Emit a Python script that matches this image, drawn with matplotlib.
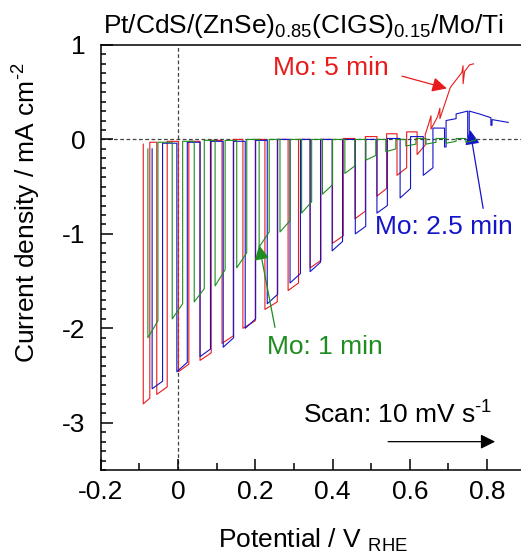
import matplotlib
matplotlib.use("Agg")
import matplotlib.pyplot as plt
from matplotlib.ticker import MultipleLocator

plt.rcParams["font.family"] = ["Liberation Sans", "DejaVu Sans"]
plt.rcParams["mathtext.fontset"] = "custom"
plt.rcParams["mathtext.rm"] = "Liberation Sans"
plt.rcParams["mathtext.it"] = "Liberation Sans"
plt.rcParams["axes.unicode_minus"] = False

FS = 19

# Оси
x_ticks = [-0.2, 0, 0.2, 0.4, 0.6, 0.8]
x_tick_labels = ["-0.2", "0", "0.2", "0.4", "0.6", "0.8"]
y_ticks = [1, 0, -1, -2, -3]
y_tick_labels = ["1", "0", "-1", "-2", "-3"]

# Mo: 1 min (зелёная) - прерывистое освещение
g_on = [-0.078, -0.015, 0.042, 0.096, 0.152, 0.210, 0.264, 0.320,
        0.374, 0.432, 0.486, 0.538, 0.590, 0.642, 0.694, 0.745]
g_off = [-0.052, 0.012, 0.068, 0.122, 0.178, 0.236, 0.290, 0.346,
         0.400, 0.458, 0.512, 0.564, 0.616, 0.668, 0.720, 0.770]
g_j_on = [-2.10, -1.90, -1.72, -1.55, -1.36, -1.14, -0.98, -0.78,
          -0.58, -0.36, -0.22, -0.13, -0.07, -0.05, -0.04, -0.03]
g_j_off = [-1.92, -1.74, -1.58, -1.38, -1.20, -0.98, -0.86, -0.66,
           -0.48, -0.28, -0.17, -0.10, -0.05, -0.03, -0.02, -0.01]
g_dark = [-0.10, -0.03, -0.02, -0.01, -0.01, 0.0, 0.0, 0.0, 0.0,
          0.0, 0.0, 0.0, 0.0, 0.01, 0.01, 0.01, 0.01]

# Mo: 2.5 min (синяя)
b_on = [-0.067, -0.003, 0.057, 0.117, 0.174, 0.231, 0.290, 0.342,
        0.399, 0.459, 0.515, 0.575, 0.635]
b_off = [-0.040, 0.024, 0.084, 0.144, 0.201, 0.258, 0.317, 0.369,
         0.426, 0.486, 0.542, 0.602, 0.660]
b_j_on = [-2.64, -2.46, -2.30, -2.20, -2.00, -1.74, -1.52, -1.40,
          -1.18, -1.00, -0.78, -0.62, -0.38]
b_j_off = [-2.56, -2.36, -2.22, -2.10, -1.90, -1.64, -1.42, -1.30,
           -1.08, -0.92, -0.70, -0.52, -0.30]
b_dark = [-0.10, -0.04, -0.03, -0.02, -0.02, -0.01, 0.0, 0.0, 0.0,
          0.0, 0.0, 0.01, 0.03, 0.12]
b_tail_e = [0.690, 0.690, 0.694, 0.694, 0.720, 0.720, 0.750, 0.750,
            0.754, 0.754, 0.780, 0.810, 0.810, 0.813, 0.813, 0.855]
b_tail_j = [0.12, -0.08, -0.08, 0.20, 0.22, 0.27, 0.30, 0.02,
            0.02, 0.30, 0.27, 0.23, 0.15, 0.15, 0.21, 0.18]

# Mo: 5 min (красная)
r_on = [-0.090, -0.055, 0.001, 0.057, 0.114, 0.168, 0.225, 0.285,
        0.342, 0.400, 0.458, 0.515, 0.567, 0.619]
r_off = [-0.073, -0.028, 0.028, 0.086, 0.143, 0.200, 0.257, 0.312,
         0.370, 0.428, 0.485, 0.540, 0.592, 0.640]
r_j_on = [-2.80, -2.70, -2.46, -2.34, -2.16, -2.00, -1.80, -1.60,
          -1.36, -1.10, -0.84, -0.60, -0.38, -0.16]
r_j_off = [-2.74, -2.62, -2.38, -2.26, -2.08, -1.92, -1.72, -1.52,
           -1.28, -1.02, -0.76, -0.52, -0.30, -0.06]
r_dark = [-0.05, -0.03, -0.02, -0.02, -0.01, 0.0, 0.0, 0.0, 0.0,
          0.0, 0.01, 0.03, 0.06, 0.08, 0.05]
r_tail_e = [0.650, 0.655, 0.655, 0.672, 0.678, 0.678, 0.705, 0.735,
            0.738, 0.738, 0.742, 0.755, 0.765]
r_tail_j = [0.18, 0.25, 0.11, 0.24, 0.33, 0.22, 0.55, 0.71,
            0.78, 0.59, 0.72, 0.79, 0.80]

RED = "#e81c1c"
BLUE = "#1414c8"
GREEN = "#1f8c1f"


def chopped(e_on, e_off, j_on, j_off, j_dark, tail_e=(), tail_j=()):
    """
    Собирает ломаную: темновой ток -> фототок -> темновой ток ...
    """
    e = [e_on[0]]
    j = [j_dark[0]]
    for i in range(len(e_on)):
        e += [e_on[i], e_on[i], e_off[i], e_off[i]]
        j += [j_dark[i], j_on[i], j_off[i], j_dark[i + 1]]
    e += list(tail_e)
    j += list(tail_j)
    return e, j


fig = plt.figure(figsize=(5.21, 5.56), dpi=100)
ax = fig.add_axes([0.1934, 0.1547, 0.8155, 0.7644])

ax.axhline(0, color="#444444", lw=0.9, ls=(0, (3, 2)), zorder=1)
ax.axvline(0, color="#444444", lw=0.9, ls=(0, (3, 2)), zorder=1)

e, j = chopped(r_on, r_off, r_j_on, r_j_off, r_dark, r_tail_e, r_tail_j)
ax.plot(e, j, color=RED, lw=0.8, zorder=2)
e, j = chopped(b_on, b_off, b_j_on, b_j_off, b_dark, b_tail_e, b_tail_j)
ax.plot(e, j, color=BLUE, lw=0.8, zorder=3)
e, j = chopped(g_on, g_off, g_j_on, g_j_off, g_dark)
ax.plot(e, j, color=GREEN, lw=0.8, zorder=4)

ax.set_xlim(-0.2, 0.9)
ax.set_ylim(-3.5, 1.0)
ax.set_xticks(x_ticks)
ax.set_xticklabels(x_tick_labels)
ax.set_yticks(y_ticks)
ax.set_yticklabels(y_tick_labels)
ax.xaxis.set_minor_locator(MultipleLocator(0.1))
ax.yaxis.set_minor_locator(MultipleLocator(0.1))
ax.tick_params(which="both", direction="in", top=False, right=False,
               width=1.1, labelsize=FS)
ax.tick_params(axis="x", which="major", length=8, pad=7)
ax.tick_params(axis="x", which="minor", length=5)
ax.tick_params(axis="y", which="major", length=8.5, pad=11)
ax.tick_params(axis="y", which="minor", length=3.6)
for s in ax.spines.values():
    s.set_linewidth(1.1)

fig.text(103 / 521, 1 - 33 / 556,
         "Pt/CdS/(ZnSe)$_{0.85}$(CIGS)$_{0.15}$/Mo/Ti",
         fontsize=FS, va="baseline", ha="left")
fig.text(27 / 521, 1 - 213 / 556, r"Current density / mA cm$^{\text{-}2}$",
         fontsize=FS, rotation=90, ha="center", va="center")
fig.text(313 / 521, 1 - 548 / 556, r"Potential / V $_{\mathrm{RHE}}$",
         fontsize=FS, ha="center", va="baseline")

arrow = dict(arrowstyle="-|>", lw=0.9, mutation_scale=22, shrinkA=0, shrinkB=0)
ax.annotate("", xy=(0.696, 0.54), xytext=(0.58, 0.67),
            arrowprops=dict(arrow, color=RED))
ax.text(0.246, 0.756, "Mo: 5 min", color=RED, fontsize=FS,
        ha="left", va="center")
ax.annotate("", xy=(0.756, 0.10), xytext=(0.79, -0.73),
            arrowprops=dict(arrow, color=BLUE))
ax.text(0.51, -0.93, "Mo: 2.5 min", color=BLUE, fontsize=FS,
        ha="left", va="center")
ax.annotate("", xy=(0.21, -1.12), xytext=(0.251, -1.99),
            arrowprops=dict(arrow, color=GREEN))
ax.text(0.23, -2.2, "Mo: 1 min", color=GREEN, fontsize=FS,
        ha="left", va="center")
ax.text(0.324, -2.92, r"Scan: 10 mV s$^{\text{-}1}$", color="black",
        fontsize=FS, ha="left", va="center")
ax.annotate("", xy=(0.821, -3.2), xytext=(0.544, -3.2),
            arrowprops=dict(arrow, color="black"))

fig.savefig("out.png", dpi=100)
